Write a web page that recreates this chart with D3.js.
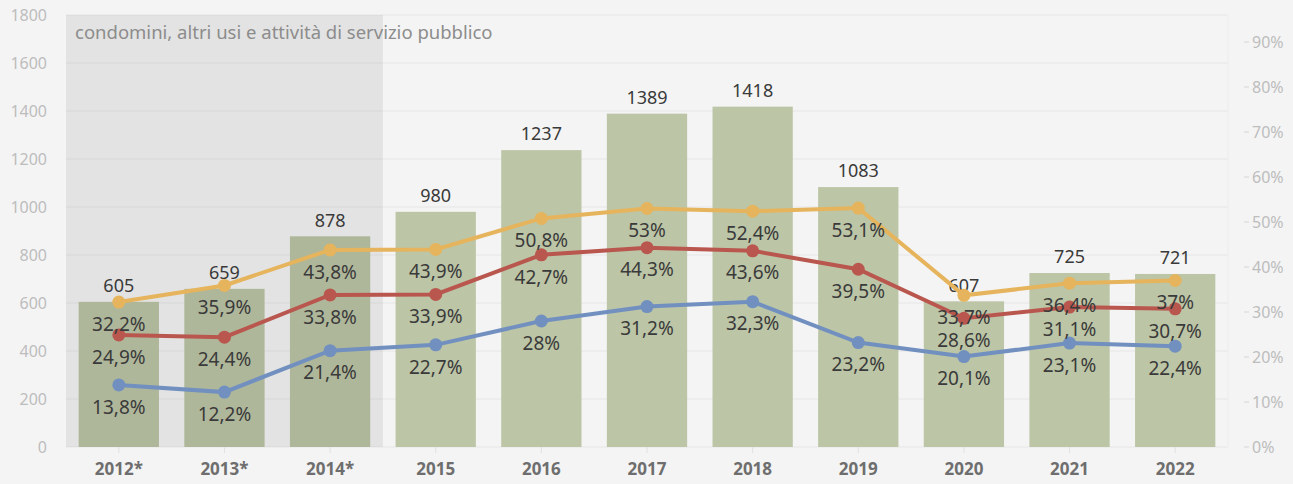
<!DOCTYPE html>
<html>
<head>
<meta charset="utf-8">
<script src="https://cdn.jsdelivr.net/npm/d3@7"></script>
<style>
  body { margin: 0; background: #f4f4f4; }
  svg { display: block; font-family: "Noto Sans", sans-serif; }
</style>
</head>
<body>
<div id="chart"></div>
<script>
// Anni (asterisco = condomini, altri usi e attività di servizio pubblico)
var years = ['2012*', '2013*', '2014*', '2015', '2016', '2017', '2018', '2019', '2020', '2021', '2022'];
var totals = [605, 659, 878, 980, 1237, 1389, 1418, 1083, 607, 725, 721];
var yellowPct = [32.2, 35.9, 43.8, 43.9, 50.8, 53, 52.4, 53.1, 33.7, 36.4, 37];
var redPct = [24.9, 24.4, 33.8, 33.9, 42.7, 44.3, 43.6, 39.5, 28.6, 31.1, 30.7];
var bluePct = [13.8, 12.2, 21.4, 22.7, 28, 31.2, 32.3, 23.2, 20.1, 23.1, 22.4];
var leftTicks = [0, 200, 400, 600, 800, 1000, 1200, 1400, 1600, 1800];
var rightTicks = [0, 10, 20, 30, 40, 50, 60, 70, 80, 90];
var shadedYears = ['2012*', '2013*', '2014*'];
var note = 'condomini, altri usi e attività di servizio pubblico';

var width = 1293, height = 484;
var margin = {top: 15, left: 66, right: 65, bottom: 37};
var plotW = width - margin.left - margin.right;
var plotH = height - margin.top - margin.bottom;

var svg = d3.select('#chart')
  .append('svg')
    .attr('width', width)
    .attr('height', height);

svg.append('rect')
  .attr('width', width).attr('height', height)
  .attr('fill', '#f4f4f4');

var g = svg.append('g')
  .attr('transform', 'translate(' + margin.left + ',' + margin.top + ')');

var x = d3.scaleBand().domain(years).range([0, plotW]).paddingInner(0.24).paddingOuter(0.12);
var y = d3.scaleLinear().domain([0, 1800]).range([plotH, 0]);
var yR = d3.scaleLinear().domain([0, 96]).range([plotH, 0]);

// gridlines
g.selectAll('line.grid')
  .data(leftTicks).enter()
  .append('line')
    .attr('class', 'grid')
    .attr('x1', 0).attr('x2', plotW)
    .attr('y1', function(d){ return y(d); })
    .attr('y2', function(d){ return y(d); })
    .attr('stroke', '#e6e6e6')
    .attr('stroke-width', 1);

// left axis labels
g.selectAll('text.yl')
  .data(leftTicks).enter()
  .append('text')
    .attr('class', 'yl')
    .attr('x', -19)
    .attr('y', function(d){ return y(d); })
    .attr('dy', '0.35em')
    .attr('text-anchor', 'end')
    .attr('fill', '#bdbdbd')
    .style('font-size', '16px')
    .text(function(d){ return d; });

// right axis
g.append('line')
  .attr('x1', plotW).attr('x2', plotW)
  .attr('y1', 0).attr('y2', plotH)
  .attr('stroke', '#ececec');
g.selectAll('line.rt')
  .data(rightTicks).enter()
  .append('line')
    .attr('class', 'rt')
    .attr('x1', plotW + 16).attr('x2', plotW + 21)
    .attr('y1', function(d){ return yR(d); })
    .attr('y2', function(d){ return yR(d); })
    .attr('stroke', '#d6d6d6');
g.selectAll('text.yr')
  .data(rightTicks).enter()
  .append('text')
    .attr('class', 'yr')
    .attr('x', plotW + 24)
    .attr('y', function(d){ return yR(d); })
    .attr('dy', '0.35em')
    .attr('fill', '#bdbdbd')
    .style('font-size', '16px')
    .text(function(d){ return d + '%'; });

// bars
g.selectAll('rect.bar')
  .data(totals).enter()
  .append('rect')
    .attr('class', 'bar')
    .attr('x', function(d, i){ return x(years[i]); })
    .attr('width', x.bandwidth())
    .attr('y', function(d){ return y(d); })
    .attr('height', function(d){ return plotH - y(d); })
    .attr('fill', '#bcc5a6');

// shaded block on the first years
var sx0 = 0;
var sx1 = x(shadedYears[shadedYears.length - 1]) + x.bandwidth() + x.step() * 0.12;
g.append('rect')
  .attr('x', sx0).attr('y', 0)
  .attr('width', sx1 - sx0).attr('height', plotH)
  .attr('fill', '#000').attr('fill-opacity', 0.065);
g.append('text')
  .attr('x', 9).attr('y', 24)
  .attr('fill', '#8c8c8c')
  .style('font-size', '18.5px')
  .text(note);

// x axis ticks + labels
g.selectAll('line.xt')
  .data(years).enter()
  .append('line')
    .attr('class', 'xt')
    .attr('x1', function(d){ return x(d) + x.bandwidth() / 2; })
    .attr('x2', function(d){ return x(d) + x.bandwidth() / 2; })
    .attr('y1', plotH).attr('y2', plotH + 6)
    .attr('stroke', '#e0e0e0');
g.selectAll('text.xl')
  .data(years).enter()
  .append('text')
    .attr('class', 'xl')
    .attr('x', function(d){ return x(d) + x.bandwidth() / 2; })
    .attr('y', plotH + 28)
    .attr('text-anchor', 'middle')
    .attr('fill', '#6e6e6e')
    .style('font-size', '17px')
    .style('font-weight', 'bold')
    .text(function(d){ return d; });

// total labels
g.selectAll('text.tot')
  .data(totals).enter()
  .append('text')
    .attr('class', 'tot')
    .attr('x', function(d, i){ return x(years[i]) + x.bandwidth() / 2; })
    .attr('y', function(d){ return y(d) - 16; })
    .attr('dy', '0.35em')
    .attr('text-anchor', 'middle')
    .attr('fill', '#3a3a3a')
    .style('font-size', '18px')
    .text(function(d){ return d; });

// lines
var series = [
  {values: yellowPct, color: '#e6b45c'},
  {values: redPct, color: '#b9574f'},
  {values: bluePct, color: '#7190c0'}
];
var line = d3.line()
  .x(function(d, i){ return x(years[i]) + x.bandwidth() / 2; })
  .y(function(d){ return yR(d); });

series.forEach(function(s){
  g.append('path')
    .datum(s.values)
    .attr('d', line)
    .attr('fill', 'none')
    .attr('stroke', s.color)
    .attr('stroke-width', 4);
  g.selectAll(null)
    .data(s.values).enter()
    .append('circle')
      .attr('cx', function(d, i){ return x(years[i]) + x.bandwidth() / 2; })
      .attr('cy', function(d){ return yR(d); })
      .attr('r', 6.5)
      .attr('fill', s.color);
});

// percentage labels below the points
series.forEach(function(s){
  g.selectAll(null)
    .data(s.values).enter()
    .append('text')
      .attr('x', function(d, i){ return x(years[i]) + x.bandwidth() / 2; })
      .attr('y', function(d){ return yR(d) + 22; })
      .attr('dy', '0.35em')
      .attr('text-anchor', 'middle')
      .attr('fill', '#3a3a3a')
      .style('font-size', '19px')
      .text(function(d){ return String(d).replace('.', ',') + '%'; });
});
</script>
</body>
</html>
